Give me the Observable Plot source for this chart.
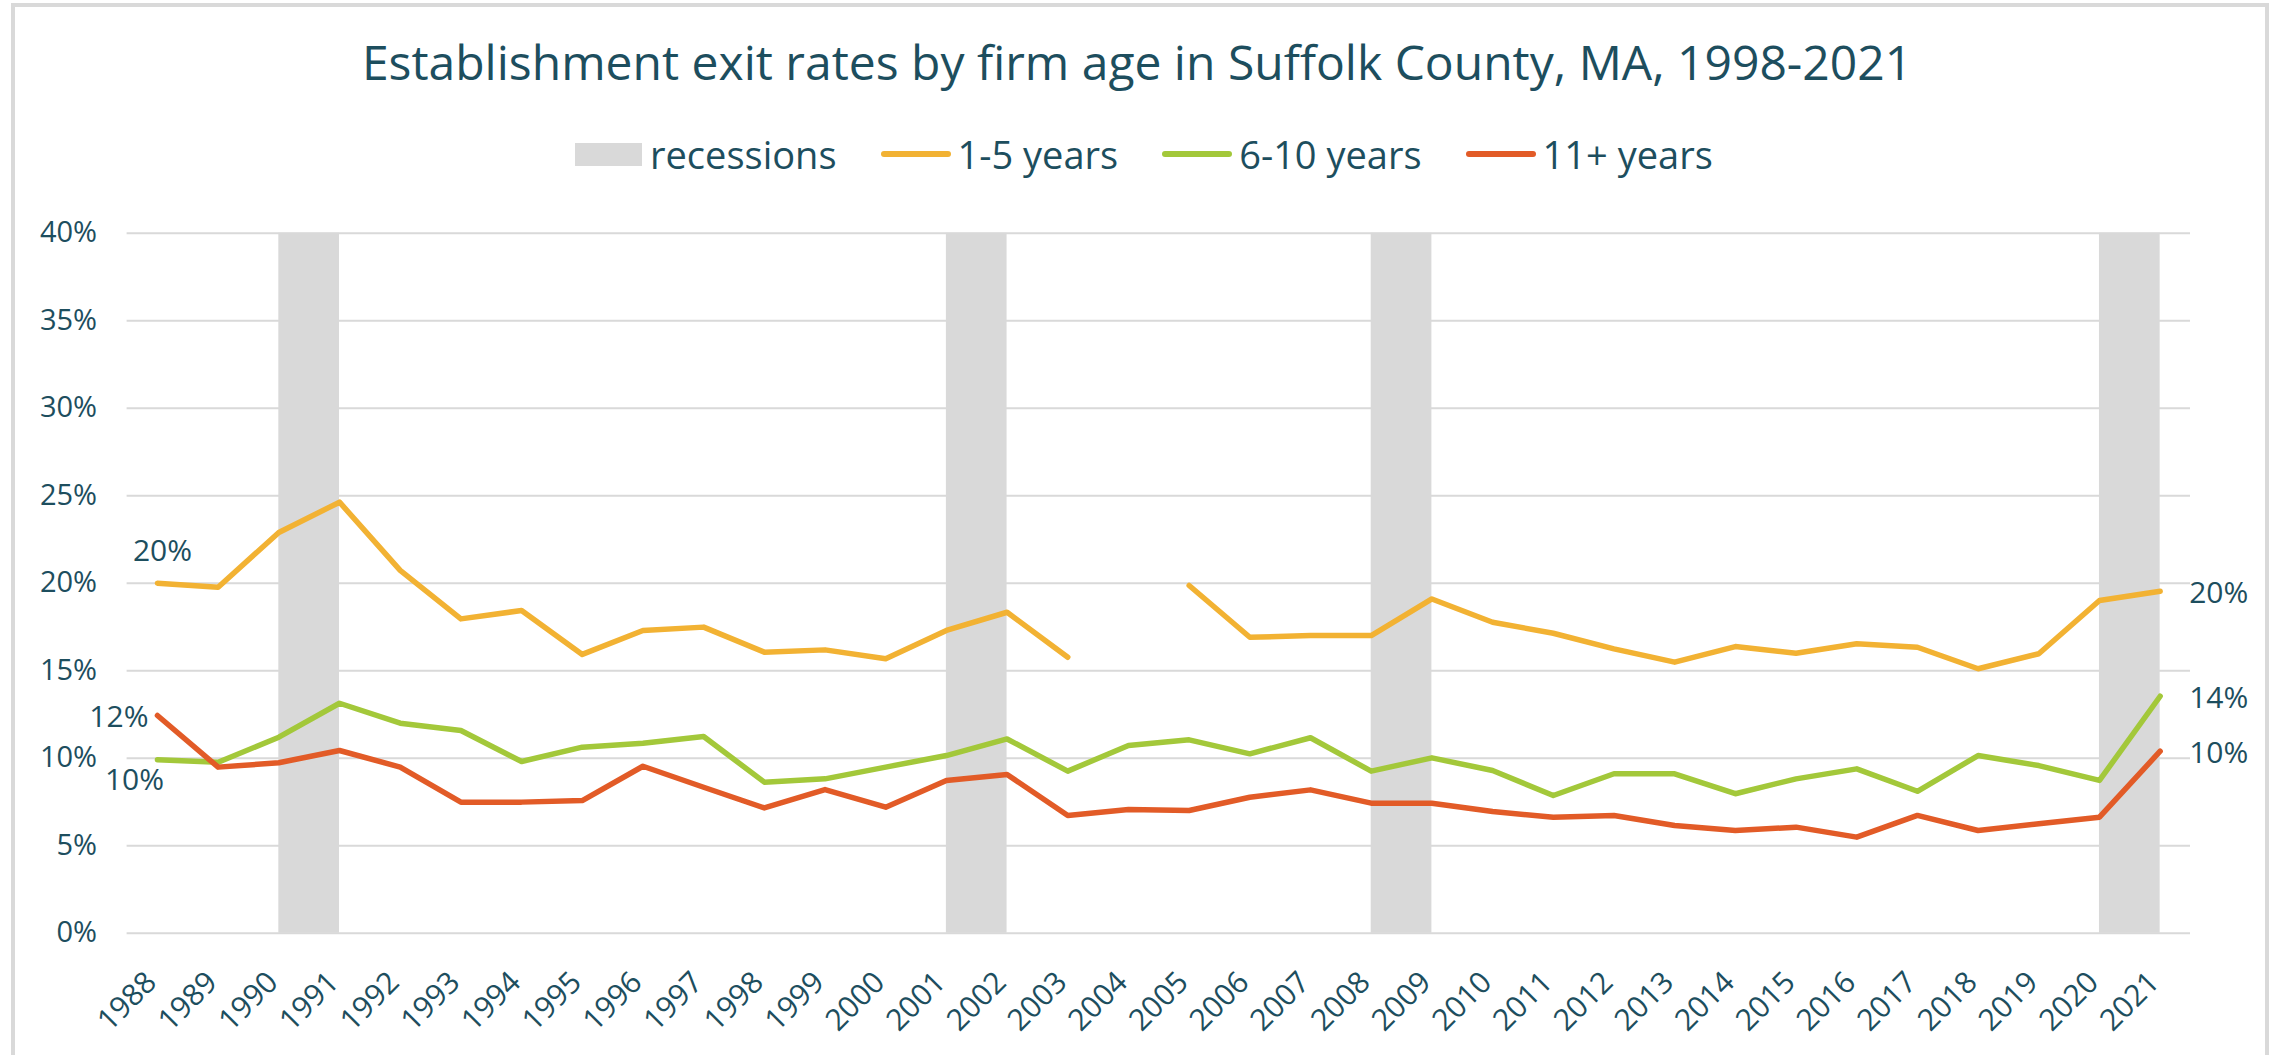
<!DOCTYPE html>
<html>
<head>
<meta charset="utf-8">
<script src="https://cdn.jsdelivr.net/npm/d3@7"></script>
<script src="https://cdn.jsdelivr.net/npm/@observablehq/plot@0.6"></script>
<style>
  body { margin: 0; background: #fff; font-family: "Open Sans", sans-serif; }
  #wrap { position: relative; width: 2274px; height: 1055px; overflow: hidden; background: #fff; }
  #frame { position: absolute; left: 11px; top: 3px; width: 2250px; height: 1100px; border: 4px solid #d9d9d9; }
  #title { position: absolute; left: 0; top: 29px; width: 2274px; text-align: center; font-size: 48px; line-height: 66px; color: #1d4e5e; white-space: nowrap; }
  #legend { position: absolute; left: 575px; top: 128px; display: flex; align-items: center; font-size: 38px; line-height: 52px; color: #1d4e5e; white-space: nowrap; }
  .item { display: flex; align-items: center; margin-right: 44px; }
  .item:last-child { margin-right: 0; }
  .box { width: 67px; height: 23px; background: #d9d9d9; margin-right: 8px; }
  .ln { width: 70px; height: 6px; border-radius: 3px; margin-right: 7px; }
  #chart { position: absolute; left: 0; top: 200px; }
</style>
</head>
<body>
<div id="wrap">
  <div id="frame"></div>
  <div id="title"></div>
  <div id="legend"></div>
  <div id="chart"></div>
</div>
<script>
const titleText = "Establishment exit rates by firm age in Suffolk County, MA, 1998-2021";
const years = [1988,1989,1990,1991,1992,1993,1994,1995,1996,1997,1998,1999,2000,2001,2002,2003,2004,2005,2006,2007,2008,2009,2010,2011,2012,2013,2014,2015,2016,2017,2018,2019,2020,2021];
const yTicks = [0,5,10,15,20,25,30,35,40];
const recessionStarts = [1990, 2001, 2008, 2020];

const seriesNames = ["1-5 years", "6-10 years", "11+ years"];
const seriesColors = ["#f2b233", "#a3c83a", "#e25b27"];

const age1to5 = [20.0,19.77,22.9,24.63,20.73,17.96,18.44,15.93,17.3,17.49,16.06,16.19,15.68,17.3,18.34,15.77,null,19.87,16.91,17.01,17.01,19.1,17.77,17.14,16.25,15.49,16.38,16.0,16.54,16.34,15.11,15.97,19.01,19.54];
const age6to10 = [9.91,9.77,11.2,13.14,12.0,11.58,9.81,10.63,10.86,11.24,8.63,8.82,9.49,10.15,11.1,9.26,10.73,11.05,10.25,11.17,9.26,10.02,9.3,7.87,9.11,9.11,7.97,8.82,9.39,8.11,10.15,9.58,8.73,13.54];
const age11plus = [12.44,9.49,9.74,10.44,9.49,7.49,7.49,7.58,9.54,8.34,7.16,8.21,7.2,8.73,9.07,6.73,7.07,7.01,7.77,8.19,7.43,7.43,6.95,6.63,6.73,6.15,5.87,6.06,5.49,6.73,5.87,6.25,6.63,10.4];

const textColor = "#1d4e5e";
const gray = "#d9d9d9";

document.getElementById("title").textContent = titleText;

// legend
const legend = document.getElementById("legend");
{
  const it = document.createElement("div"); it.className = "item";
  const b = document.createElement("div"); b.className = "box"; it.appendChild(b);
  const t = document.createElement("span"); t.textContent = "recessions"; it.appendChild(t);
  legend.appendChild(it);
}
seriesNames.forEach((n, i) => {
  const it = document.createElement("div"); it.className = "item";
  const l = document.createElement("div"); l.className = "ln"; l.style.background = seriesColors[i]; it.appendChild(l);
  const t = document.createElement("span"); t.textContent = n; it.appendChild(t);
  legend.appendChild(it);
});

const allSeries = [age1to5, age6to10, age11plus];
const rows = allSeries.map((vals, s) => years.map((yr, i) => ({year: yr, value: vals[i], series: seriesNames[s]})));
const fmt = v => Math.round(v) + "%";
const first = rows.map(r => r[0]);
const last = rows.map(r => r[r.length - 1]);

const labelMarks = [
  Plot.text([first[0]], {x: "year", y: "value", text: d => fmt(d.value), dx: 5, dy: -32, fontSize: 30, fill: textColor}),
  Plot.text([first[1]], {x: "year", y: "value", text: d => fmt(d.value), dx: -23, dy: 21, fontSize: 30, fill: textColor}),
  Plot.text([first[2]], {x: "year", y: "value", text: d => fmt(d.value), dx: -9, dy: 2, textAnchor: "end", fontSize: 30, fill: textColor}),
  Plot.text(last, {x: "year", y: "value", text: d => fmt(d.value), dx: 29, dy: 2, textAnchor: "start", fontSize: 30, fill: textColor})
];

const chart = Plot.plot({
  width: 2274,
  height: 855,
  marginLeft: 126.6,
  marginRight: 84,
  marginTop: 32.7,
  marginBottom: 122.3,
  x: {domain: [1987.5, 2021.5]},
  y: {domain: [0, 40]},
  style: {fontFamily: "Open Sans", color: textColor, background: "transparent", overflow: "visible"},
  marks: [
    Plot.gridY(yTicks, {stroke: gray, strokeOpacity: 1, strokeWidth: 2}),
    Plot.rect(recessionStarts, {x1: d => d, x2: d => d + 1, fill: gray}),
    Plot.axisY(yTicks, {tickSize: 0, tickPadding: 30, tickFormat: d => d + "%", fontSize: 29, fill: textColor, label: null}),
    Plot.axisX(years, {tickSize: 0, tickPadding: 44, tickRotate: -45, dx: -6, tickFormat: d => String(d), fontSize: 30, fill: textColor, label: null}),
    ...rows.map((r, s) => Plot.lineY(r, {x: "year", y: "value", stroke: seriesColors[s], strokeWidth: 5.5, strokeLinejoin: "round", strokeLinecap: "round"})),
    ...labelMarks
  ]
});
document.getElementById("chart").appendChild(chart);
</script>
</body>
</html>
